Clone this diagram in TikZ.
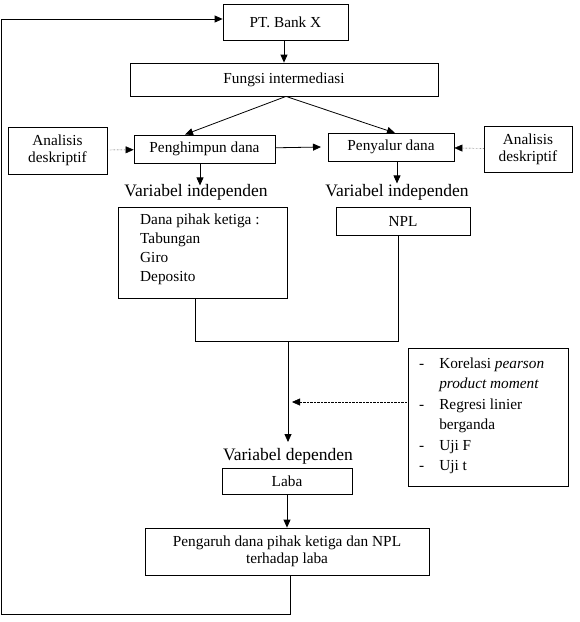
\documentclass[tikz,border=0pt]{standalone}
\usepackage{fontspec}
\setmainfont{Liberation Serif}
\usetikzlibrary{arrows.meta}

\begin{document}
\begin{tikzpicture}[x=1pt, y=-1pt,
  box/.style={draw, thick, rectangle, font=\fontsize{15.3}{17}\selectfont, inner sep=2pt},
  lbl/.style={font=\fontsize{17.5}{20}\selectfont, inner sep=0pt},
  arr/.style={thick, -{Triangle[length=8pt, width=7pt]}},
  dotarr/.style={densely dotted, -{Triangle[length=8pt, width=7pt]}},
  line/.style={thick}]
\useasboundingbox (0,0) rectangle (580,622);

\node[box, minimum width=125, minimum height=36] (bank) at (285.5,22) {PT. Bank X};
\node[box, minimum width=308, minimum height=33] (fungsi) at (284,79.5) {Fungsi intermediasi};
\node[box, minimum width=141, minimum height=28, align=center] (himpun) at (204.5,149) {Penghimpun dana};
\node[box, minimum width=126, minimum height=28] (salur) at (391,147) {Penyalur dana};
\node[box, minimum width=99, minimum height=47, align=center] (anaL) at (57.5,150.5) {Analisis\\deskriptif};
\node[box, minimum width=88, minimum height=46, align=center] (anaR) at (528,149) {Analisis\\deskriptif};

\node[lbl] (varA) at (196,192) {Variabel independen};
\node[lbl] (varB) at (397,192) {Variabel independen};

\node[box, minimum width=169, minimum height=91] (dana) at (202.5,252.5) {};
\node[anchor=north west, align=left, font=\fontsize{15.3}{19}\selectfont, inner sep=0pt] (danatxt) at (140,214)
  {Dana pihak ketiga :\\Tabungan\\Giro\\Deposito};
\node[box, minimum width=134, minimum height=28] (npl) at (403,221) {NPL};

\coordinate (jL) at (195,341);
\coordinate (jR) at (398,341);
\coordinate (jM) at (288,341);

\node[lbl] (vardep) at (288,456) {Variabel dependen};
\node[box, minimum width=130, minimum height=26] (laba) at (287,481) {Laba};
\node[box, minimum width=284, minimum height=47, align=center] (pengaruh) at (287,551.5)
  {Pengaruh dana pihak ketiga dan NPL\\terhadap laba};

\node[box, minimum width=160, minimum height=138, anchor=north west] (uji) at (408,348) {};
\node[anchor=north west, font=\fontsize{15.3}{17}\selectfont, inner sep=0pt] (ujitxt) at (419,354)
  {\renewcommand\arraystretch{1.2}\begin{tabular}{@{}l@{\hspace{15pt}}l@{}}
  - & Korelasi \textit{pearson}\\
    & \textit{product moment}\\
  - & Regresi linier\\
    & berganda\\
  - & Uji F\\
  - & Uji t
  \end{tabular}};

\coordinate (loopA) at (290,614);
\coordinate (loopB) at (1.5,614);
\coordinate (loopC) at (1.5,19);

% alur utama
\draw[arr] (bank.south -| 284,0) -- (fungsi.north -| 284,0);
\draw[arr] (fungsi.south) ++(2,0) -- (185,134.5);
\draw[arr] (fungsi.south) ++(2,0) -- (395,133);
\draw[arr] (himpun) -- (salur.west -| 321,0);
\draw[dotarr] (anaL) -- (himpun);
\draw[dotarr] (anaR) -- (salur);
\draw[arr] (himpun.south -| 200,0) -- ++(0,22);
\draw[arr] (salur.south -| 397,0) -- ++(0,22);

\draw[line] (dana.south -| jL) -- (jL) -- (jR) -- (npl.south -| jR);
\draw[arr] (jM) -- (288,442);
\draw[dotarr] (uji.west |- 0,402) -- (292,402);

\draw[arr] (laba) -- (pengaruh);
\draw[line] (pengaruh.south -| loopA) -- (loopA) -- (loopB) -- (loopC);
\draw[arr] (loopC) -- (bank.west |- loopC);
\end{tikzpicture}
\end{document}
